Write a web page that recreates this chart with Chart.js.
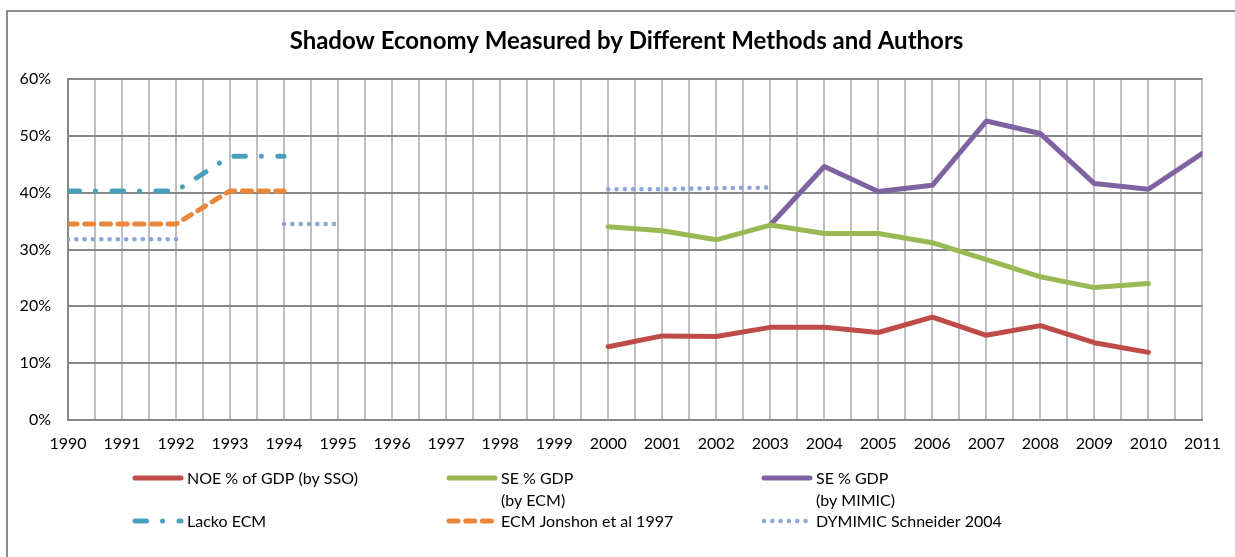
<!DOCTYPE html>
<html>
<head>
<meta charset="utf-8">
<title>Shadow Economy</title>
<script src="https://cdn.jsdelivr.net/npm/chart.js@4.4.1/dist/chart.umd.min.js"></script>
<style>
  html, body { margin: 0; padding: 0; background: #fff; }
  canvas { display: block; }
</style>
</head>
<body>
<canvas id="shadowChart" width="1235" height="557"></canvas>
<script>
// values, % of GDP, one entry per year
const years = [1990, 1991, 1992, 1993, 1994, 1995, 1996, 1997, 1998, 1999, 2000,
               2001, 2002, 2003, 2004, 2005, 2006, 2007, 2008, 2009, 2010, 2011];

const noeSso = [null, null, null, null, null, null, null, null, null, null,
                12.9, 14.8, 14.7, 16.3, 16.3, 15.4, 18.1, 14.9, 16.6, 13.6, 11.9, null];
const seEcm = [null, null, null, null, null, null, null, null, null, null,
               34.0, 33.3, 31.7, 34.3, 32.8, 32.8, 31.2, 28.2, 25.2, 23.3, 24.0, null];
const seMimic = [null, null, null, null, null, null, null, null, null, null,
                 null, null, null, 34.3, 44.6, 40.2, 41.3, 52.6, 50.4, 41.6, 40.6, 46.9];
const lackoEcm = [40.3, 40.3, 40.3, 46.4, 46.4, null, null, null, null, null, null,
                  null, null, null, null, null, null, null, null, null, null, null];
const ecmJonshon = [34.5, 34.5, 34.5, 40.3, 40.3, null, null, null, null, null, null,
                    null, null, null, null, null, null, null, null, null, null, null];
const dymimic = [31.8, 31.8, 31.8, null, 34.5, 34.5, null, null, null, null,
                 40.6, 40.6, 40.8, 40.9, null, null, null, null, null, null, null, null];

const seriesLabels = ['NOE % of GDP (by SSO)', 'SE % GDP\n(by ECM)', 'SE % GDP\n(by MIMIC)',
                      'Lacko ECM', 'ECM Jonshon et al 1997', 'DYMIMIC Schneider 2004'];
const yTicks = [0, 10, 20, 30, 40, 50, 60];
const chartTitle = 'Shadow Economy Measured by Different Methods and Authors';

const FONT = 'Lato, "Open Sans", sans-serif';

function toPoints(values) {
  return years.map((x, i) => ({ x: x, y: values[i] }));
}

function lineSet(label, values, color, dash, width) {
  return {
    label: label,
    data: toPoints(values),
    borderColor: color,
    backgroundColor: color,
    borderWidth: width || 5,
    borderDash: dash || [],
    borderCapStyle: 'round',
    borderJoinStyle: 'round',
    pointRadius: 0,
    tension: 0,
    spanGaps: false
  };
}

// white background, frame (cut off at right/bottom in the source) and the title
const framePlugin = {
  id: 'framePlugin',
  beforeDraw(chart) {
    const c = chart.ctx;
    c.save();
    c.fillStyle = '#fff';
    c.fillRect(0, 0, chart.width, chart.height);
    c.strokeStyle = '#8c8c8c';
    c.lineWidth = 2;
    c.strokeRect(7, 11, chart.width + 20, chart.height + 20);
    c.fillStyle = '#000';
    c.font = 'bold 24px ' + FONT;
    c.textAlign = 'center';
    c.textBaseline = 'alphabetic';
    c.fillText(chartTitle, 626.5, 49);
    c.restore();
  }
};

// three-column legend under the axis, like the excel one
const legendSpots = [
  { x: 133, y: 478 }, { x: 447, y: 478 }, { x: 762, y: 478 },
  { x: 133, y: 521 }, { x: 447, y: 521 }, { x: 762, y: 521 }
];

const gridLegend = {
  id: 'gridLegend',
  afterDraw(chart) {
    const c = chart.ctx;
    chart.data.datasets.forEach((ds, i) => {
      const p = legendSpots[i];
      c.save();
      c.strokeStyle = ds.borderColor;
      c.lineWidth = ds.borderWidth;
      c.lineCap = 'round';
      c.setLineDash(ds.borderDash);
      c.beginPath();
      c.moveTo(p.x + 2, p.y);
      c.lineTo(p.x + 48, p.y);
      c.stroke();
      c.restore();

      c.save();
      c.fillStyle = '#000';
      c.font = '16px ' + FONT;
      c.textBaseline = 'middle';
      ds.label.split('\n').forEach((line, k) => {
        c.fillText(line, p.x + 54, p.y + 1 + k * 22);
      });
      c.restore();
    });
  }
};

const ctx = document.getElementById('shadowChart').getContext('2d');

new Chart(ctx, {
  type: 'line',
  data: {
    datasets: [
      lineSet(seriesLabels[0], noeSso, '#be4b48'),
      lineSet(seriesLabels[1], seEcm, '#98b954'),
      lineSet(seriesLabels[2], seMimic, '#7f62a1'),
      lineSet(seriesLabels[3], lackoEcm, '#4aa0bb', [11.5, 16, 0.01, 16.5]),
      lineSet(seriesLabels[4], ecmJonshon, '#e8873a', [9, 7.7]),
      lineSet(seriesLabels[5], dymimic, '#8aa5d6', [0.01, 8.3], 4.6)
    ]
  },
  options: {
    responsive: false,
    animation: false,
    layout: { padding: { left: 17, right: 27, top: 79, bottom: 103 } },
    plugins: {
      legend: { display: false },
      tooltip: { enabled: false },
      title: { display: false }
    },
    scales: {
      x: {
        type: 'linear',
        min: years[0],
        max: years[years.length - 1],
        afterFit: (scale) => { scale.height = 34; },
        border: { color: '#878787', width: 2 },
        grid: { color: '#bfbfbf', lineWidth: 2, drawTicks: false },
        ticks: {
          stepSize: 0.5,
          autoSkip: false,
          maxRotation: 0,
          padding: 14,
          color: '#000',
          font: { family: FONT, size: 16 },
          callback: (v) => Number.isInteger(v) ? String(v) : ''
        }
      },
      y: {
        min: yTicks[0],
        max: yTicks[yTicks.length - 1],
        afterFit: (scale) => { scale.width = 51; },
        border: { color: '#878787', width: 2 },
        grid: { color: '#878787', lineWidth: 2, drawTicks: false },
        ticks: {
          stepSize: 10,
          padding: 17,
          color: '#000',
          font: { family: FONT, size: 16 },
          callback: (v) => v + '%'
        }
      }
    }
  },
  plugins: [framePlugin, gridLegend]
});
</script>
</body>
</html>
